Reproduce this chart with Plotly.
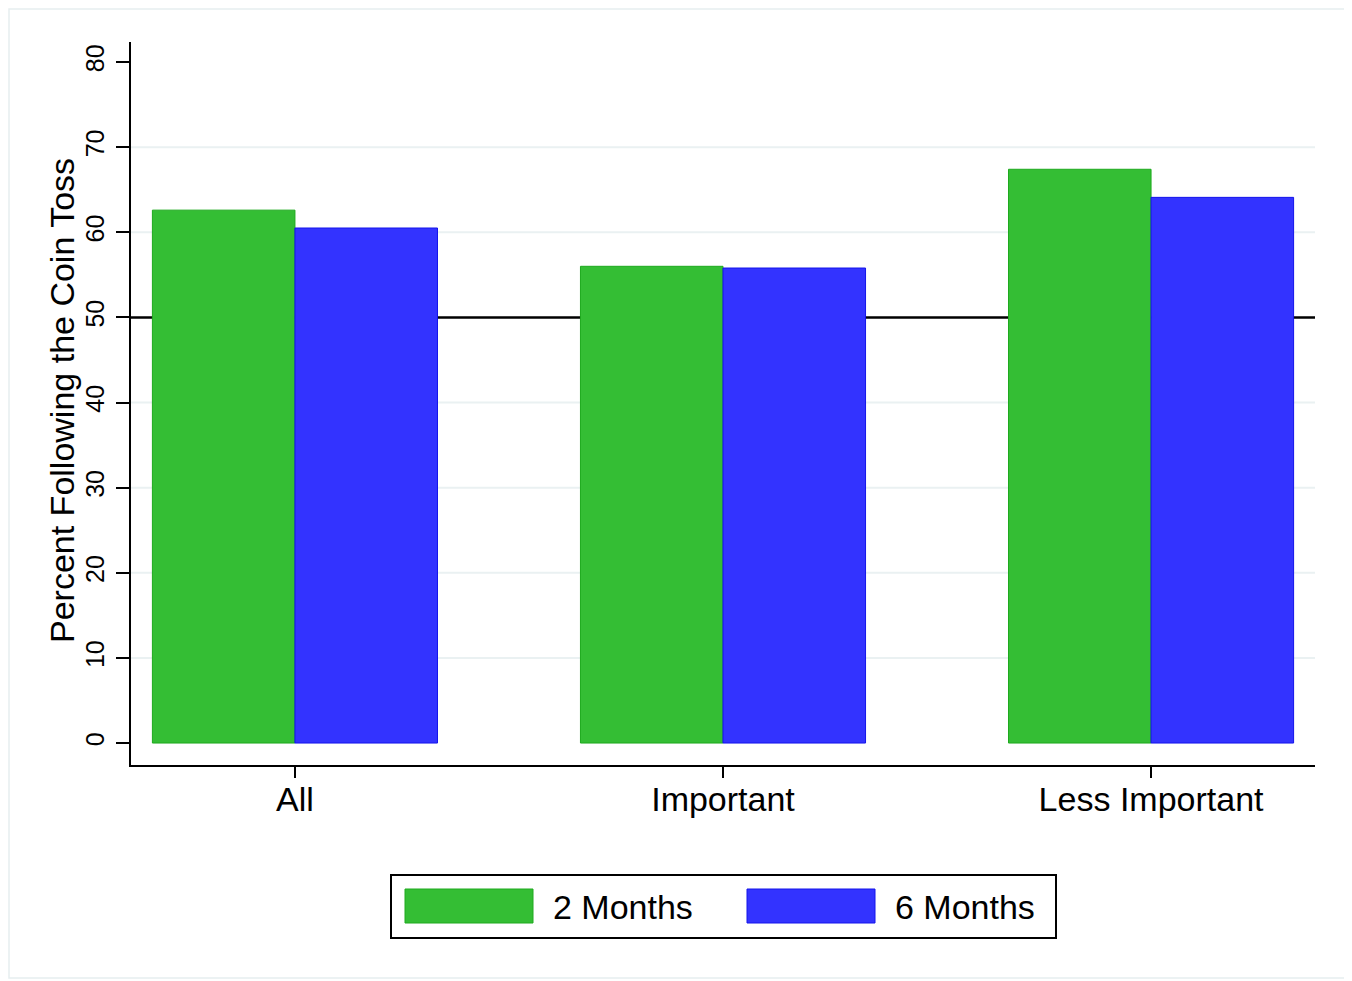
import plotly.graph_objects as go

categories = ["All", "Important", "Less Important"]
series_names = ["2 Months", "6 Months"]
two_months = [62.6, 56.0, 67.4]
six_months = [60.5, 55.8, 64.1]
y_ticks = [0, 10, 20, 30, 40, 50, 60, 70, 80]
grid_values = [10, 20, 30, 40, 60, 70]
reference_value = 50

fill_colors = ["rgb(52,190,52)", "rgb(51,51,255)"]
line_colors = ["rgb(30,170,30)", "rgb(20,20,235)"]
FONT = "Liberation Sans, Arial, sans-serif"

OFF = 8  # page body margin
W, H = 1352 - OFF, 981 - OFF
# plot area in screen pixels
SX0, SX1, SY0, SY1 = 131, 1315, 42, 765
PX0, PX1, PY0, PY1 = SX0 - OFF, SX1 - OFF, SY0 - OFF, SY1 - OFF


def px(x):
    """screen x -> paper"""
    return (x - OFF - PX0) / (PX1 - PX0)


def py(y):
    """screen y -> paper"""
    return (PY1 - (y - OFF)) / (PY1 - PY0)


fig = go.Figure()
for name, vals, fc, lc in zip(series_names, [two_months, six_months], fill_colors, line_colors):
    fig.add_trace(go.Bar(
        x=categories, y=vals, name=name,
        marker=dict(color=fc, line=dict(color=lc, width=1)),
        showlegend=False,
    ))

shapes = []
for g in grid_values:
    shapes.append(dict(type="line", xref="paper", yref="y", x0=0, x1=1, y0=g, y1=g,
                       line=dict(color="#eaf1f2", width=2), layer="below"))
shapes.append(dict(type="line", xref="paper", yref="y", x0=0, x1=1,
                   y0=reference_value, y1=reference_value,
                   line=dict(color="black", width=2.5), layer="below"))
# outer frame
shapes.append(dict(type="rect", xref="paper", yref="paper",
                   x0=px(OFF + 1), x1=px(1348), y0=py(978), y1=py(OFF + 1),
                   line=dict(color="#e6eef0", width=1.5), layer="below"))
# legend box
shapes.append(dict(type="rect", xref="paper", yref="paper",
                   x0=px(391), x1=px(1056), y0=py(938), y1=py(875),
                   line=dict(color="black", width=2), fillcolor="white"))
annotations = []
for i, (name, fc, lc) in enumerate(zip(series_names, fill_colors, line_colors)):
    sx = 405 + i * 342
    shapes.append(dict(type="rect", xref="paper", yref="paper",
                       x0=px(sx), x1=px(sx + 128), y0=py(923), y1=py(889),
                       line=dict(color=lc, width=1), fillcolor=fc))
    annotations.append(dict(text=name, xref="paper", yref="paper",
                            x=px(sx + 146), y=py(907), xanchor="left", yanchor="middle",
                            showarrow=False, font=dict(size=34, color="black", family=FONT)))

annotations.append(dict(text="Percent Following the Coin Toss", xref="paper", yref="paper",
                        x=px(62), y=py(401), textangle=-90, xanchor="center", yanchor="middle",
                        showarrow=False, font=dict(size=34, color="black", family=FONT)))

fig.update_layout(
    width=W, height=H,
    margin=dict(l=PX0, r=W - PX1, t=PY0, b=H - PY1, pad=0),
    paper_bgcolor="white", plot_bgcolor="white",
    barmode="group", bargap=0.334, bargroupgap=0,
    font=dict(family=FONT, color="black"),
    shapes=shapes, annotations=annotations,
    xaxis=dict(range=[-0.383, 2.383], showgrid=False, zeroline=False,
               showline=True, linecolor="black", linewidth=1.5,
               ticks="outside", ticklen=11, tickwidth=1.5, tickcolor="black",
               tickfont=dict(size=34, family=FONT, color="black"),
               ticklabelstandoff=-8, fixedrange=True),
    yaxis=dict(range=[-2.58, 82.35], showgrid=False, zeroline=False,
               showline=True, linecolor="black", linewidth=1.5,
               ticks="outside", ticklen=13, tickwidth=1.5, tickcolor="black",
               tickvals=y_ticks, tickangle=-90,
               tickfont=dict(size=25, family=FONT, color="black"),
               ticklabelstandoff=2, fixedrange=True),
)

fig.write_html("out.html")
